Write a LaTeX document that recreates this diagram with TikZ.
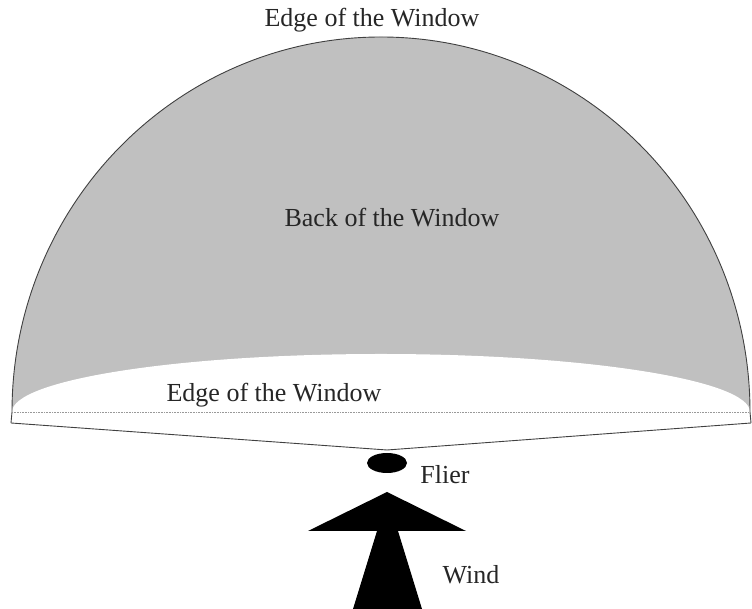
\documentclass[tikz,border=0pt]{standalone}
\usepackage{fontspec}
\setmainfont{Liberation Serif}
\usetikzlibrary{shapes.geometric}
\begin{document}
\begin{tikzpicture}[x=1pt,y=1pt,
  lbl/.style={inner sep=0pt,font=\fontsize{26}{30}\selectfont,text=black!85},
  outline/.style={draw=black!75,line width=0.9pt}]
\useasboundingbox (0,0) rectangle (752,609);
\definecolor{domegray}{RGB}{192,192,192}
% dome
\fill[domegray] (12,197) arc[start angle=180,end angle=0,x radius=369,y radius=375] -- cycle;
\fill[white] (12,197) arc[start angle=180,end angle=0,x radius=369,y radius=58] -- cycle;
\coordinate (L) at (11,186);
\coordinate (R) at (751,186);
\coordinate (V) at (387,159);
\coordinate (DL) at (12,197);
\coordinate (DR) at (750,197);
\draw[outline] (L) -- (DL) arc[start angle=180,end angle=0,x radius=369,y radius=375] -- (R);
\draw[outline] (L) -- (V) -- (R);
\draw[black!40,densely dotted,line width=0.6pt] (DL) -- (DR);
% flier
\node[ellipse,fill=black,minimum width=40pt,minimum height=20pt,inner sep=0pt] (flier) at (387,146) {};
% wind arrow
\fill[black] (387,117) -- (466,78) -- (398,78) -- (422,0) -- (353,0) -- (377,78) -- (308,78) -- cycle;
% labels
\node[lbl] (edgetop) at (372,589) {Edge of the Window};
\node[lbl] (back) at (392,391) {Back of the Window};
\node[lbl] (edgebot) at (274,214) {Edge of the Window};
\node[lbl] (flierlbl) at (445,134) {Flier};
\node[lbl] (windlbl) at (471,34) {Wind};
\end{tikzpicture}
\end{document}
